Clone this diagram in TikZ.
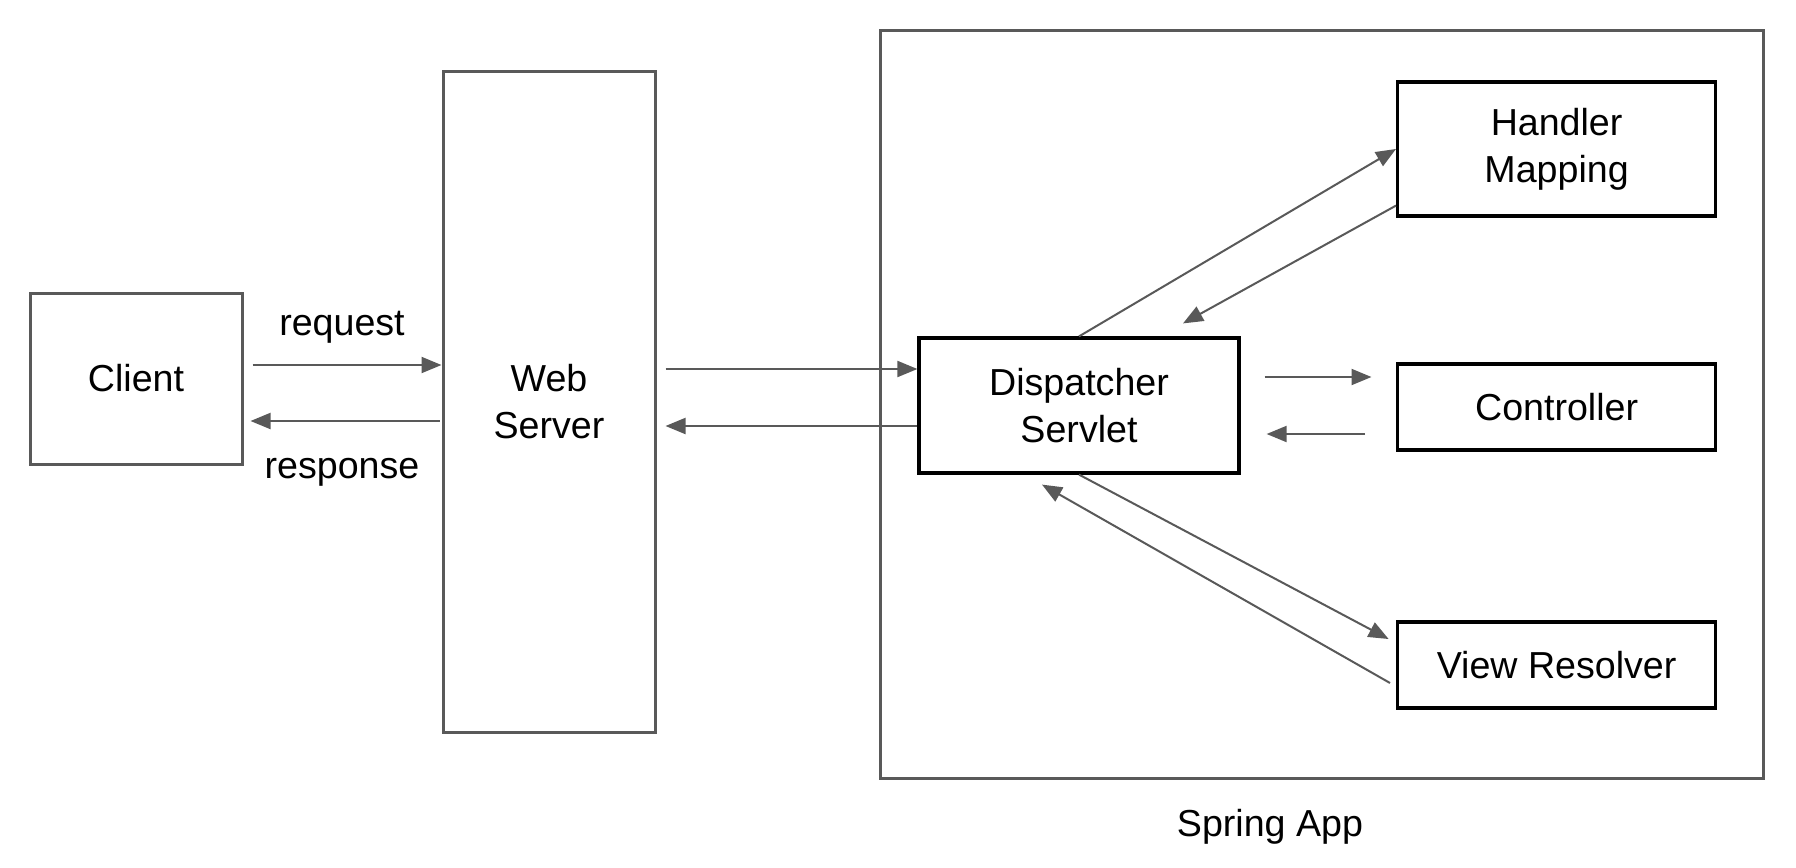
\documentclass[tikz,border=0pt]{standalone}
\usepackage{fontspec}
\setmainfont{Liberation Sans}
\usetikzlibrary{arrows.meta,calc}
\definecolor{linegray}{HTML}{595959}

\begin{document}
\begin{tikzpicture}[x=0.5pt,y=-0.5pt,
        every node/.style={font=\fontsize{18.8}{23.5}\selectfont},
        outerbox/.style={draw=linegray,line width=1.5pt,align=center},
        innerbox/.style={draw=black,line width=1.6pt,align=center,minimum width=159pt},
        arr/.style={draw=linegray,line width=1pt,-{Triangle[length=10pt,width=8pt]}}]
        \useasboundingbox (0,0) rectangle (1796,868);

        % vnejsi bloky
        \node[outerbox,minimum width=106pt,minimum height=85.5pt] (Client) at (136,378.5) {Client};
        \node[outerbox,minimum width=106pt,minimum height=330.5pt] (Web) at (549,401.5) {Web\\Server};
        \node[outerbox,minimum width=441.5pt,minimum height=374pt] (Spring) at (1322.4,404.9) {};
        \node (SpringLbl) at (1270,827) {Spring App};

        % bloky uvnitr aplikace
        \node[innerbox,minimum width=160pt,minimum height=67.5pt] (DS) at (1079,405.5) {Dispatcher\\Servlet};
        \node[innerbox,minimum height=67pt] (HM) at (1556.6,149) {Handler\\Mapping};
        \node[innerbox,minimum height=43pt] (Ctrl) at (1556.6,407) {Controller};
        \node[innerbox,minimum height=43pt] (VR) at (1556.6,665) {View Resolver};

        % klient <-> server
        \draw[arr] ($(Client.east)+(9,-13.5)$) -- ($(Web.west)+(0,-36.5)$);
        \draw[arr] ($(Web.west)+(-2,19.5)$) -- ($(Client.east)+(7,42.5)$);
        \node (Req) at (342,327) {request};
        \node (Resp) at (342,472) {response};

        % server <-> dispatcher
        \draw[arr] ($(Web.east)+(9,-32.5)$) -- ($(DS.west)+(0,-36.5)$);
        \draw[arr] ($(DS.west)+(0,20.5)$) -- ($(Web.east)+(9,24.5)$);

        % dispatcher <-> ostatni
        \draw[arr] (DS.north) -- (HM.west);
        \draw[arr] ($(HM.south west)+(0,-12)$) -- ($(DS.north)+(104,-13)$);
        \draw[arr] ($(DS.east)+(24,-28.5)$) -- ($(Ctrl.west)+(-24.5,-30)$);
        \draw[arr] ($(Ctrl.west)+(-31,27)$) -- ($(DS.east)+(26,28.5)$);
        \draw[arr] (DS.south) -- ($(VR.west)+(-7.4,-26)$);
        \draw[arr] ($(VR.west)+(-6,18)$) -- ($(DS.south)+(-37,10)$);
\end{tikzpicture}
\end{document}
